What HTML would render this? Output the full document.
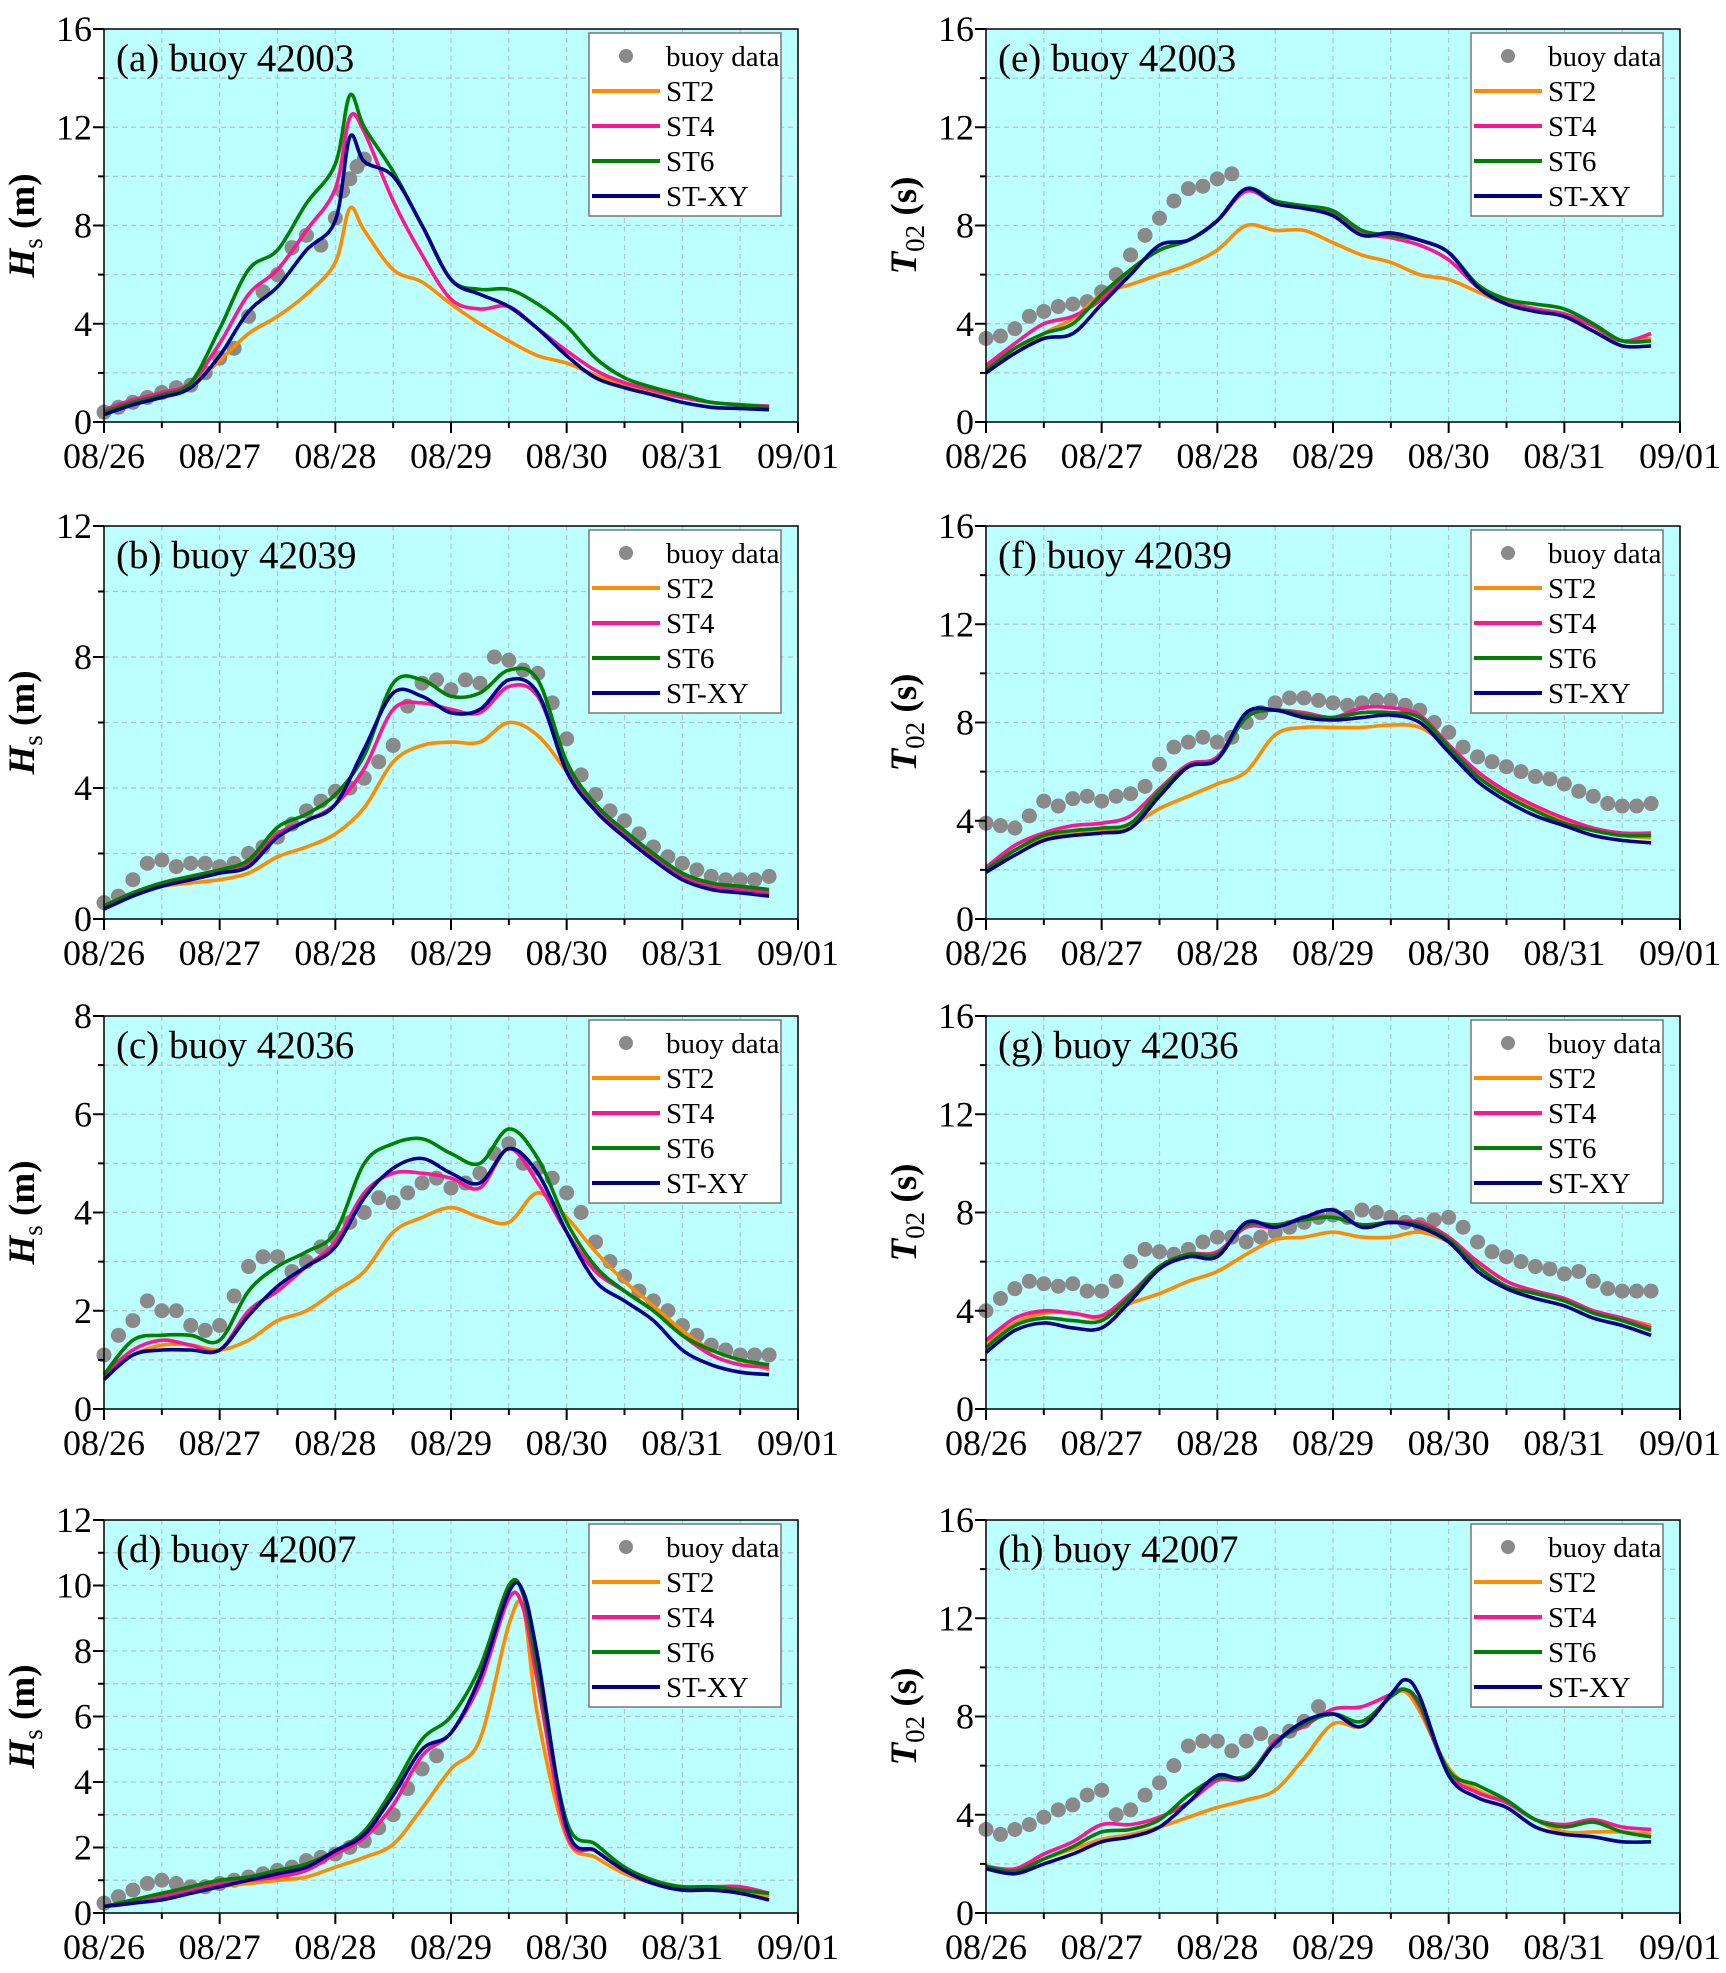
<!DOCTYPE html>
<html><head><meta charset="utf-8">
<style>
html,body{margin:0;padding:0;background:#fff;}
svg{display:block;font-family:"Liberation Serif",serif;}
svg text{font-family:"Liberation Serif",serif;}
</style></head>
<body>
<svg id="fig" width="1726" height="1973" viewBox="0 0 1726 1973" xmlns="http://www.w3.org/2000/svg" font-family="Liberation Serif, serif"></svg>
<script>
// ---------- shared data ----------
const dayLabels = ["08/26","08/27","08/28","08/29","08/30","08/31","09/01"];
const seriesNames = ["ST2","ST4","ST6","ST-XY"];
const tBase = [0,0.25,0.5,0.75,1,1.25,1.5,1.75,2,2.25,2.5,2.75,3,3.25,3.5,3.75,4,4.25,4.5,4.75,5,5.25,5.5,5.75];
const tPeakA = [0,0.25,0.5,0.75,1,1.25,1.5,1.75,2,2.125,2.25,2.5,2.75,3,3.25,3.5,3.75,4,4.25,4.5,4.75,5,5.25,5.5,5.75];
const tPeakD = [0,0.25,0.5,0.75,1,1.25,1.5,1.75,2,2.25,2.5,2.75,3,3.25,3.5,3.625,3.75,4,4.25,4.5,4.75,5,5.25,5.5,5.75];
const tBuoyFull = [0,0.125,0.25,0.375,0.5,0.625,0.75,0.875,1,1.125,1.25,1.375,1.5,1.625,1.75,1.875,2,2.125,2.25,2.375,2.5,2.625,2.75,2.875,3,3.125,3.25,3.375,3.5,3.625,3.75,3.875,4,4.125,4.25,4.375,4.5,4.625,4.75,4.875,5,5.125,5.25,5.375,5.5,5.625,5.75];
const tBuoyA = [0,0.125,0.25,0.375,0.5,0.625,0.75,0.875,1,1.125,1.25,1.375,1.5,1.625,1.75,1.875,2,2.0625,2.125,2.1875,2.25];
const tBuoyE = [0,0.125,0.25,0.375,0.5,0.625,0.75,0.875,1,1.125,1.25,1.375,1.5,1.625,1.75,1.875,2,2.125];
const tBuoyD = [0,0.125,0.25,0.375,0.5,0.625,0.75,0.875,1,1.125,1.25,1.375,1.5,1.625,1.75,1.875,2,2.125,2.25,2.375,2.5,2.625,2.75,2.875];

// (a) Hs 42003
const aST2 = [.4,.8,1.1,1.5,2.5,3.6,4.3,5.2,6.5,8.7,7.8,6.2,5.7,4.8,4.0,3.3,2.7,2.4,1.9,1.5,1.2,1.0,.8,.7,.6];
const aST4 = [.5,.9,1.2,1.6,3.2,5.2,6.2,7.8,9.5,12.4,11.8,9.0,6.8,5.0,4.6,4.7,3.8,2.9,2.1,1.6,1.3,1.0,.8,.7,.65];
const aST6 = [.4,.8,1.1,1.6,3.8,6.2,7.0,8.9,10.5,13.3,12.0,10.2,8.0,5.8,5.4,5.4,4.8,3.9,2.6,1.8,1.4,1.1,.8,.7,.6];
const aSTXY = [.3,.7,1.0,1.4,2.7,4.5,5.5,7.0,8.2,11.6,10.6,10.0,8.0,5.8,5.2,4.7,3.8,2.7,1.8,1.4,1.1,.8,.6,.55,.5];
const aBuoy = [.4,.6,.8,1.0,1.2,1.4,1.5,2.0,2.6,3.0,4.3,5.3,6.0,7.1,7.6,7.2,8.3,9.4,9.9,10.4,10.7];
// (e) T02 42003
const eST2 = [2.2,2.8,3.6,4.2,5.2,5.6,6.0,6.4,7.0,8.0,7.8,7.8,7.3,6.8,6.5,6.0,5.8,5.3,4.8,4.6,4.3,3.7,3.3,3.4];
const eST4 = [2.3,3.2,4.0,4.3,5.0,6.2,7.0,7.4,8.2,9.4,8.9,8.7,8.5,7.7,7.5,7.2,6.6,5.5,4.9,4.6,4.4,3.9,3.3,3.6];
const eST6 = [2.1,3.0,3.6,4.0,5.2,6.2,7.0,7.4,8.2,9.5,9.0,8.8,8.6,7.8,7.6,7.4,6.9,5.6,5.0,4.8,4.6,4.0,3.3,3.3];
const eSTXY = [2.0,2.8,3.4,3.6,4.8,6.0,7.2,7.4,8.2,9.5,8.9,8.7,8.4,7.6,7.7,7.4,6.9,5.5,4.8,4.5,4.3,3.7,3.1,3.1];
const eBuoy = [3.4,3.5,3.8,4.3,4.5,4.7,4.8,4.9,5.3,6.0,6.8,7.6,8.3,9.0,9.5,9.6,9.9,10.1];
// (b) Hs 42039
const bST2 = [.4,.8,1.0,1.1,1.2,1.4,1.9,2.2,2.6,3.4,4.8,5.3,5.4,5.4,6.0,5.6,4.5,3.3,2.5,1.9,1.3,1.0,.9,.8];
const bST4 = [.4,.8,1.1,1.3,1.5,1.7,2.6,3.0,3.5,4.6,6.4,6.6,6.4,6.3,7.1,6.8,4.6,3.4,2.6,1.9,1.3,1.0,.9,.8];
const bST6 = [.4,.8,1.1,1.3,1.5,1.8,2.8,3.2,3.8,5.0,7.2,7.3,6.8,6.9,7.6,7.3,4.8,3.5,2.7,2.0,1.4,1.1,1.0,.9];
const bSTXY = [.3,.7,1.0,1.2,1.4,1.6,2.5,3.0,3.5,5.2,6.9,6.8,6.3,6.4,7.3,6.9,4.5,3.3,2.5,1.8,1.2,.9,.8,.7];
const bBuoy = [.5,.7,1.2,1.7,1.8,1.6,1.7,1.7,1.6,1.7,2.0,2.2,2.5,2.9,3.3,3.6,3.9,4.0,4.3,4.8,5.3,6.5,7.2,7.3,7.0,7.3,7.2,8.0,7.9,7.6,7.5,6.6,5.5,4.4,3.8,3.3,3.0,2.6,2.2,1.9,1.7,1.5,1.3,1.2,1.2,1.2,1.3];
// (f) T02 42039
const fST2 = [2.0,2.8,3.3,3.5,3.6,3.8,4.5,5.0,5.5,6.0,7.5,7.8,7.8,7.8,7.9,7.8,7.0,6.0,5.1,4.5,4.0,3.6,3.4,3.3];
const fST4 = [2.1,3.0,3.5,3.8,3.9,4.2,5.3,6.3,6.6,8.3,8.5,8.4,8.2,8.6,8.6,8.3,7.1,6.0,5.2,4.6,4.1,3.7,3.5,3.5];
const fST6 = [2.0,2.8,3.4,3.6,3.7,3.9,5.2,6.2,6.5,8.2,8.5,8.3,8.2,8.4,8.4,8.2,7.0,5.8,5.0,4.4,3.9,3.6,3.4,3.4];
const fSTXY = [1.9,2.6,3.2,3.4,3.5,3.7,5.0,6.2,6.5,8.4,8.5,8.2,8.1,8.2,8.3,8.0,6.8,5.6,4.8,4.2,3.8,3.4,3.2,3.1];
const fBuoy = [3.9,3.8,3.7,4.2,4.8,4.6,4.9,5.0,4.8,5.0,5.1,5.4,6.3,7.0,7.2,7.4,7.2,7.4,8.0,8.4,8.8,9.0,9.0,8.9,8.8,8.7,8.8,8.9,8.9,8.7,8.5,8.0,7.6,7.0,6.6,6.4,6.2,6.0,5.8,5.7,5.5,5.2,5.0,4.7,4.6,4.6,4.7];
// (c) Hs 42036
const cST2 = [.7,1.1,1.3,1.3,1.2,1.4,1.8,2.0,2.4,2.8,3.6,3.9,4.1,3.9,3.8,4.4,3.9,3.2,2.6,2.1,1.6,1.2,1.0,.8];
const cST4 = [.7,1.2,1.4,1.3,1.2,2.0,2.4,2.9,3.4,4.4,4.8,4.8,4.7,4.5,5.3,4.6,3.6,2.8,2.4,2.0,1.5,1.1,.9,.85];
const cST6 = [.7,1.4,1.5,1.5,1.4,2.4,2.9,3.2,3.6,5.0,5.4,5.5,5.2,5.0,5.7,5.1,3.8,2.9,2.4,2.0,1.5,1.2,1.0,.9];
const cSTXY = [.6,1.1,1.2,1.2,1.2,1.9,2.5,2.9,3.3,4.3,4.9,5.1,4.8,4.6,5.3,4.8,3.6,2.6,2.2,1.8,1.2,.9,.75,.7];
const cBuoy = [1.1,1.5,1.8,2.2,2.0,2.0,1.7,1.6,1.7,2.3,2.9,3.1,3.1,2.8,3.0,3.3,3.5,3.8,4.0,4.3,4.2,4.4,4.6,4.7,4.5,4.6,4.8,5.2,5.4,5.0,4.9,4.7,4.4,4.0,3.4,3.0,2.7,2.4,2.2,2.0,1.7,1.5,1.3,1.2,1.1,1.1,1.1];
// (g) T02 42036
const gST2 = [2.7,3.5,3.9,3.9,3.7,4.3,4.7,5.2,5.6,6.3,6.9,7.0,7.2,7.0,7.0,7.2,6.8,6.0,5.2,4.8,4.5,4.0,3.7,3.4];
const gST4 = [2.8,3.7,4.0,3.9,3.8,4.7,5.8,6.3,6.4,7.4,7.4,7.8,7.8,7.5,7.6,7.6,7.0,6.0,5.2,4.8,4.5,4.0,3.7,3.3];
const gST6 = [2.5,3.4,3.7,3.6,3.6,4.6,5.8,6.3,6.3,7.5,7.5,7.7,7.8,7.5,7.6,7.5,6.9,5.8,5.0,4.7,4.4,3.9,3.6,3.2];
const gSTXY = [2.3,3.2,3.5,3.3,3.3,4.4,5.7,6.2,6.2,7.6,7.4,7.8,8.1,7.4,7.6,7.4,6.8,5.6,4.9,4.5,4.2,3.7,3.4,3.0];
const gBuoy = [4.0,4.5,4.9,5.2,5.1,5.0,5.1,4.8,4.8,5.2,6.0,6.5,6.4,6.3,6.5,6.8,7.0,7.0,6.8,7.0,7.2,7.4,7.6,7.8,7.9,7.8,8.1,8.0,7.8,7.6,7.5,7.7,7.8,7.4,6.8,6.4,6.2,6.0,5.8,5.7,5.5,5.6,5.2,4.9,4.8,4.8,4.8];
// (d) Hs 42007
const dST2 = [.2,.3,.5,.6,.8,.9,1.0,1.1,1.4,1.7,2.1,3.2,4.4,5.3,8.8,9.3,6.0,2.3,1.7,1.2,.9,.7,.7,.7,.5];
const dST4 = [.2,.3,.5,.7,.9,1.0,1.1,1.3,1.8,2.3,3.3,4.8,5.5,7.0,9.6,9.3,7.0,2.4,1.9,1.3,.9,.8,.8,.8,.6];
const dST6 = [.2,.4,.6,.8,1.0,1.1,1.3,1.5,1.9,2.5,3.8,5.3,6.0,7.5,10.0,9.7,7.4,2.8,2.1,1.4,1.0,.8,.8,.7,.6];
const dSTXY = [.2,.3,.4,.6,.8,1.0,1.2,1.4,1.9,2.4,3.6,5.0,5.5,7.2,9.8,9.8,7.8,2.6,1.9,1.3,.9,.7,.7,.6,.4];
const dBuoy = [.3,.5,.7,.9,1.0,.9,.8,.8,.9,1.0,1.1,1.2,1.3,1.4,1.6,1.7,1.8,2.0,2.2,2.6,3.0,3.8,4.4,4.8];
// (h) T02 42007
const hST2 = [1.9,1.7,2.2,2.6,3.0,3.2,3.5,3.9,4.3,4.6,5.0,6.3,7.7,7.6,8.8,9.0,8.2,5.9,5.0,4.5,3.8,3.3,3.3,3.3,3.2];
const hST4 = [1.9,1.8,2.4,2.9,3.6,3.6,3.9,4.5,5.4,5.5,7.0,7.6,8.3,8.4,8.9,9.1,8.4,5.7,4.9,4.5,3.8,3.6,3.8,3.5,3.4];
const hST6 = [1.9,1.7,2.2,2.7,3.3,3.4,3.8,4.8,5.5,5.6,6.9,7.7,8.1,7.8,8.8,9.1,8.5,5.8,5.2,4.6,3.8,3.5,3.7,3.3,3.1];
const hSTXY = [1.8,1.6,2.0,2.4,2.9,3.1,3.5,4.5,5.6,5.5,6.9,7.8,8.1,7.6,8.9,9.5,8.8,5.6,4.7,4.3,3.5,3.2,3.1,2.9,2.9];
const hBuoy = [3.4,3.2,3.4,3.6,3.9,4.2,4.4,4.8,5.0,4.0,4.2,4.8,5.3,6.0,6.8,7.0,7.0,6.6,7.0,7.3,7.0,7.4,7.8,8.4];

const yTicksHs16 = [0,4,8,12,16];
const yTicksHs12 = [0,4,8,12];
const yTicksHs8 = [0,2,4,6,8];
const yTicksHs12b = [0,2,4,6,8,10,12];
const yTicksT = [0,4,8,12,16];

const colors = ["#ff8c00","#ff1493","#008000","#00008b"];
const FONT = '"Liberation Serif", serif';
const NS = "http://www.w3.org/2000/svg";
const svg = document.getElementById('fig');
function mk(tag, attrs, parent){const e=document.createElementNS(NS,tag);for(const k in attrs)e.setAttribute(k,attrs[k]);if(tag==='text')e.setAttribute('font-family',FONT);(parent||svg).appendChild(e);return e;}

const panels = [
 {id:"a",title:"(a) buoy 42003",col:0,row:0,ymax:16,ticks:yTicksHs16,minor:2,q:"H",sub:"s",unit:"(m)",t:tPeakA,s:[aST2,aST4,aST6,aSTXY],bt:tBuoyA,b:aBuoy},
 {id:"b",title:"(b) buoy 42039",col:0,row:1,ymax:12,ticks:yTicksHs12,minor:2,q:"H",sub:"s",unit:"(m)",t:tBase,s:[bST2,bST4,bST6,bSTXY],bt:tBuoyFull,b:bBuoy},
 {id:"c",title:"(c) buoy 42036",col:0,row:2,ymax:8,ticks:yTicksHs8,minor:1,q:"H",sub:"s",unit:"(m)",t:tBase,s:[cST2,cST4,cST6,cSTXY],bt:tBuoyFull,b:cBuoy},
 {id:"d",title:"(d) buoy 42007",col:0,row:3,ymax:12,ticks:yTicksHs12b,minor:1,q:"H",sub:"s",unit:"(m)",t:tPeakD,s:[dST2,dST4,dST6,dSTXY],bt:tBuoyD,b:dBuoy},
 {id:"e",title:"(e) buoy 42003",col:1,row:0,ymax:16,ticks:yTicksT,minor:2,q:"T",sub:"02",unit:"(s)",t:tBase,s:[eST2,eST4,eST6,eSTXY],bt:tBuoyE,b:eBuoy},
 {id:"f",title:"(f) buoy 42039",col:1,row:1,ymax:16,ticks:yTicksT,minor:2,q:"T",sub:"02",unit:"(s)",t:tBase,s:[fST2,fST4,fST6,fSTXY],bt:tBuoyFull,b:fBuoy},
 {id:"g",title:"(g) buoy 42036",col:1,row:2,ymax:16,ticks:yTicksT,minor:2,q:"T",sub:"02",unit:"(s)",t:tBase,s:[gST2,gST4,gST6,gSTXY],bt:tBuoyFull,b:gBuoy},
 {id:"h",title:"(h) buoy 42007",col:1,row:3,ymax:16,ticks:yTicksT,minor:2,q:"T",sub:"02",unit:"(s)",t:tPeakD,s:[hST2,hST4,hST6,hSTXY],bt:tBuoyD,b:hBuoy}
];
const colX=[104,986], rowY=[29,526,1016,1520], PW=694, PH=393;

function smoothPath(pts){
  let d="M"+pts[0][0].toFixed(1)+","+pts[0][1].toFixed(1);
  for(let i=0;i<pts.length-1;i++){
    const p0=pts[i-1]||pts[i],p1=pts[i],p2=pts[i+1],p3=pts[i+2]||p2;
    const c1=[p1[0]+(p2[0]-p0[0])/6,p1[1]+(p2[1]-p0[1])/6];
    const c2=[p2[0]-(p3[0]-p1[0])/6,p2[1]-(p3[1]-p1[1])/6];
    d+="C"+c1[0].toFixed(1)+","+c1[1].toFixed(1)+" "+c2[0].toFixed(1)+","+c2[1].toFixed(1)+" "+p2[0].toFixed(1)+","+p2[1].toFixed(1);
  }
  return d;
}

panels.forEach(p=>{
  const L=colX[p.col], T=rowY[p.row], R=L+PW, B=T+PH;
  const xs=v=>L+v/6*PW, ys=v=>B-v/p.ymax*PH;
  const g=mk('g',{});
  
  
  const bg=mk('rect',{x:L,y:T,width:PW,height:PH,fill:'#bbffff'},g);
  
  
  for(let k=1;k<12;k++){
    const gl=mk('line',{x1:xs(k/2),x2:xs(k/2),y1:T,y2:B,stroke:'#b0c8c8','stroke-width':1.2,'stroke-dasharray':'5,4'},g);
    
    
  }
  for(let v=p.minor;v<p.ymax;v+=p.minor){
    const gl=mk('line',{x1:L,x2:R,y1:ys(v),y2:ys(v),stroke:'#b0c8c8','stroke-width':1.2,'stroke-dasharray':'5,4'},g);
    
    
  }
  const dg=mk('g',{fill:'#8a8a8a'},g);
  
  
  p.b.forEach((v,i)=>{
    const c=mk('circle',{cx:xs(p.bt[i]),cy:ys(v),r:7.5},dg);
    
    
  });
  p.s.forEach((arr,si)=>{
    const pts=arr.map((v,i)=>[xs(p.t[i]),ys(v)]);
    const ln=mk('path',{d:smoothPath(pts),fill:'none',stroke:colors[si],'stroke-width':3.6,'stroke-linejoin':'round'},g);
    
    
  });
  const fr=mk('rect',{x:L,y:T,width:PW,height:PH,fill:'none',stroke:'#000','stroke-width':1.5},g);
  
  
  for(let k=0;k<=12;k++){
    const len=k%2?6:11;
    const tk=mk('line',{x1:xs(k/2),x2:xs(k/2),y1:B,y2:B+len,stroke:'#000','stroke-width':2},g);
    
    
  }
  dayLabels.forEach((s,k)=>{
    const tx=mk('text',{x:xs(k),y:B+46,'font-size':36,'text-anchor':'middle'},g);
    tx.textContent=s;
    
    
  });
  for(let v=0;v<=p.ymax+1e-9;v+=p.ticks[1]/2){
    const major=p.ticks.includes(v);
    const tk=mk('line',{x1:L-(major?11:6),x2:L,y1:ys(v),y2:ys(v),stroke:'#000','stroke-width':2},g);
    
    
  }
  p.ticks.forEach(v=>{
    const tx=mk('text',{x:L-12,y:ys(v)+12,'font-size':36,'text-anchor':'end'},g);
    tx.textContent=v;
    
    
  });
  const yt=mk('text',{transform:`translate(${L-70},${T+PH/2}) rotate(-90)`,'font-size':37,'font-weight':'bold','text-anchor':'middle'},g);
  
  
  const q=mk('tspan',{'font-style':'italic'},yt);q.textContent=p.q;
  const sb=mk('tspan',{'font-size':27,'font-weight':'normal',dy:8},yt);sb.textContent=p.sub;
  const un=mk('tspan',{dy:-8},yt);un.textContent=" "+p.unit;
  const ti=mk('text',{x:L+12,y:T+42,'font-size':39},g);
  ti.textContent=p.title;
  
  
  const lg=mk('g',{},g);
  
  
  const lx=L+485, ly=T+4;
  mk('rect',{x:lx,y:ly,width:192,height:183,fill:'#fff',stroke:'#777','stroke-width':1.5},lg);
  const rows=[27,62,97,132,167];
  const dot=mk('circle',{cx:lx+37,cy:T+rows[0],r:7,fill:'#8a8a8a'},lg);
  
  
  const lt=mk('text',{x:lx+77,y:T+rows[0]+10,'font-size':29},lg);lt.textContent="buoy data";
  
  
  seriesNames.forEach((n,i)=>{
    const ll=mk('line',{x1:lx+3,x2:lx+71,y1:T+rows[i+1],y2:T+rows[i+1],stroke:colors[i],'stroke-width':4},lg);
    
    
    const t=mk('text',{x:lx+77,y:T+rows[i+1]+10,'font-size':29},lg);t.textContent=n;
    
    
  });
});
</script>
</body></html>
